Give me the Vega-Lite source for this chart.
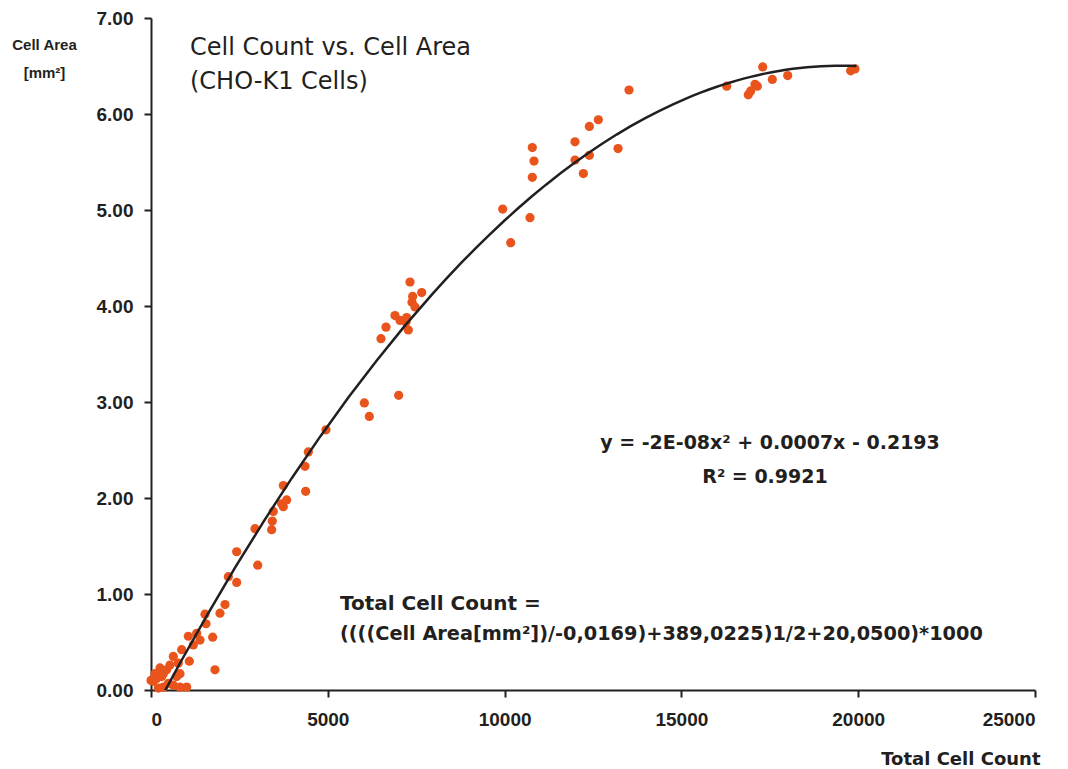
{
  "$schema": "https://vega.github.io/schema/vega-lite/v6.json",
  "autosize": "none",
  "width": 884,
  "height": 672,
  "padding": {"left": 151, "top": 18, "right": 33, "bottom": 79},
  "background": "white",
  "config": {
    "view": {"stroke": null},
    "axis": {
      "domainColor": "#231F20", "domainWidth": 2, "tickColor": "#231F20", "tickWidth": 2,
      "tickSize": 7, "grid": false, "labelColor": "#231F20", "labelFont": "Liberation Sans",
      "labelFontWeight": "bold", "labelFontSize": 19, "titleColor": "#231F20"
    }
  },
  "datasets": {
    "cells": [
      {"count": 0, "area": 0.10}, {"count": 66, "area": 0.09}, {"count": 113, "area": 0.17},
      {"count": 160, "area": 0.12}, {"count": 207, "area": 0.02}, {"count": 254, "area": 0.23},
      {"count": 302, "area": 0.14}, {"count": 349, "area": 0.17}, {"count": 349, "area": 0.03},
      {"count": 443, "area": 0.21}, {"count": 490, "area": 0.07}, {"count": 537, "area": 0.26},
      {"count": 631, "area": 0.35}, {"count": 631, "area": 0.05}, {"count": 726, "area": 0.14},
      {"count": 772, "area": 0.28}, {"count": 820, "area": 0.17}, {"count": 820, "area": 0.03},
      {"count": 868, "area": 0.42}, {"count": 1009, "area": 0.03}, {"count": 1056, "area": 0.56},
      {"count": 1084, "area": 0.30}, {"count": 1197, "area": 0.47}, {"count": 1292, "area": 0.59},
      {"count": 1386, "area": 0.52}, {"count": 1527, "area": 0.79}, {"count": 1555, "area": 0.69},
      {"count": 1744, "area": 0.55}, {"count": 1810, "area": 0.21}, {"count": 1951, "area": 0.80},
      {"count": 2093, "area": 0.89}, {"count": 2187, "area": 1.18}, {"count": 2423, "area": 1.12},
      {"count": 2423, "area": 1.44}, {"count": 3017, "area": 1.30}, {"count": 2941, "area": 1.68},
      {"count": 3412, "area": 1.67}, {"count": 3431, "area": 1.76}, {"count": 3459, "area": 1.86},
      {"count": 3695, "area": 1.94}, {"count": 3742, "area": 1.91}, {"count": 3837, "area": 1.98},
      {"count": 3742, "area": 2.13}, {"count": 4374, "area": 2.07}, {"count": 4355, "area": 2.33},
      {"count": 4449, "area": 2.48}, {"count": 4949, "area": 2.71}, {"count": 6033, "area": 2.99},
      {"count": 6174, "area": 2.85}, {"count": 7004, "area": 3.07}, {"count": 6504, "area": 3.66},
      {"count": 6646, "area": 3.78}, {"count": 7277, "area": 3.75}, {"count": 7211, "area": 3.83},
      {"count": 7231, "area": 3.88}, {"count": 7042, "area": 3.85}, {"count": 6900, "area": 3.90},
      {"count": 7381, "area": 4.04}, {"count": 7466, "area": 3.99}, {"count": 7400, "area": 4.10},
      {"count": 7655, "area": 4.14}, {"count": 7325, "area": 4.25},
      {"count": 9946, "area": 5.01}, {"count": 10172, "area": 4.66}, {"count": 10718, "area": 4.92},
      {"count": 10784, "area": 5.34}, {"count": 10831, "area": 5.51}, {"count": 10784, "area": 5.65},
      {"count": 11991, "area": 5.71}, {"count": 11991, "area": 5.52}, {"count": 12227, "area": 5.38},
      {"count": 12397, "area": 5.57}, {"count": 12397, "area": 5.87}, {"count": 12651, "area": 5.94},
      {"count": 13208, "area": 5.64}, {"count": 13518, "area": 6.25}, {"count": 16281, "area": 6.29},
      {"count": 16892, "area": 6.20}, {"count": 16959, "area": 6.24}, {"count": 17081, "area": 6.31},
      {"count": 17147, "area": 6.29}, {"count": 17299, "area": 6.49}, {"count": 17571, "area": 6.36},
      {"count": 18006, "area": 6.40}, {"count": 19787, "area": 6.45}, {"count": 19909, "area": 6.47}
    ],
    "heading": [
      {"x": 1103, "y": 6.69, "label": "Cell Count vs. Cell Area"},
      {"x": 1103, "y": 6.33, "label": "(CHO-K1 Cells)"}
    ],
    "equation": [
      {"x": 17505, "y": 2.57, "label": "y = -2E-08x² + 0.0007x - 0.2193"},
      {"x": 17364, "y": 2.22, "label": "R² = 0.9921"}
    ],
    "formulaHead": [
      {"x": 5345, "y": 0.90, "label": "Total Cell Count ="}
    ],
    "formulaBody": [
      {"x": 5345, "y": 0.58, "label": "((((Cell Area[mm²])/-0,0169)+389,0225)1/2+20,0500)*1000"}
    ]
  },
  "layer": [
    {
      "data": {"name": "cells"},
      "mark": {"type": "point", "filled": true, "opacity": 1, "color": "#E8541C", "size": 85},
      "encoding": {
        "x": {
          "field": "count", "type": "quantitative",
          "scale": {"domain": [0, 25000], "nice": false},
          "axis": {
            "values": [0, 5000, 10000, 15000, 20000, 25000], "format": "d", "labelPadding": 13,
            "title": "Total Cell Count", "titleFont": "DejaVu Sans", "titleFontWeight": "bold",
            "titleFontSize": 18, "titleAnchor": "end", "titleAlign": "right", "titleX": 889,
            "titleY": 60, "titleBaseline": "top"
          }
        },
        "y": {
          "field": "area", "type": "quantitative",
          "scale": {"domain": [0, 7], "nice": false},
          "axis": {
            "values": [0, 1, 2, 3, 4, 5, 6, 7], "format": ".2f", "labelPadding": 11,
            "title": ["Cell Area", "[mm²]"], "titleAngle": 0, "titleFont": "Liberation Sans",
            "titleFontWeight": "bold", "titleFontSize": 15, "titleAlign": "center",
            "titleBaseline": "middle", "titleX": -107, "titleY": 26, "titleLineHeight": 28
          }
        }
      }
    },
    {
      "data": {"name": "cells"},
      "transform": [
        {"regression": "area", "on": "count", "method": "poly", "order": 2, "extent": [0, 19950]}
      ],
      "mark": {"type": "line", "color": "#231F20", "strokeWidth": 2.5, "clip": true},
      "encoding": {
        "x": {"field": "count", "type": "quantitative"},
        "y": {"field": "area", "type": "quantitative"}
      }
    },
    {
      "data": {"name": "heading"},
      "mark": {"type": "text", "align": "left", "baseline": "middle", "font": "DejaVu Sans", "fontSize": 24, "color": "#231F20"},
      "encoding": {
        "x": {"field": "x", "type": "quantitative"},
        "y": {"field": "y", "type": "quantitative"},
        "text": {"field": "label"}
      }
    },
    {
      "data": {"name": "equation"},
      "mark": {"type": "text", "align": "center", "baseline": "middle", "font": "DejaVu Sans", "fontWeight": "bold", "fontSize": 19, "color": "#231F20"},
      "encoding": {
        "x": {"field": "x", "type": "quantitative"},
        "y": {"field": "y", "type": "quantitative"},
        "text": {"field": "label"}
      }
    },
    {
      "data": {"name": "formulaHead"},
      "mark": {"type": "text", "align": "left", "baseline": "middle", "font": "DejaVu Sans", "fontWeight": "bold", "fontSize": 20, "color": "#231F20"},
      "encoding": {
        "x": {"field": "x", "type": "quantitative"},
        "y": {"field": "y", "type": "quantitative"},
        "text": {"field": "label"}
      }
    },
    {
      "data": {"name": "formulaBody"},
      "mark": {"type": "text", "align": "left", "baseline": "middle", "font": "DejaVu Sans", "fontWeight": "bold", "fontSize": 19.3, "color": "#231F20"},
      "encoding": {
        "x": {"field": "x", "type": "quantitative"},
        "y": {"field": "y", "type": "quantitative"},
        "text": {"field": "label"}
      }
    }
  ]
}
